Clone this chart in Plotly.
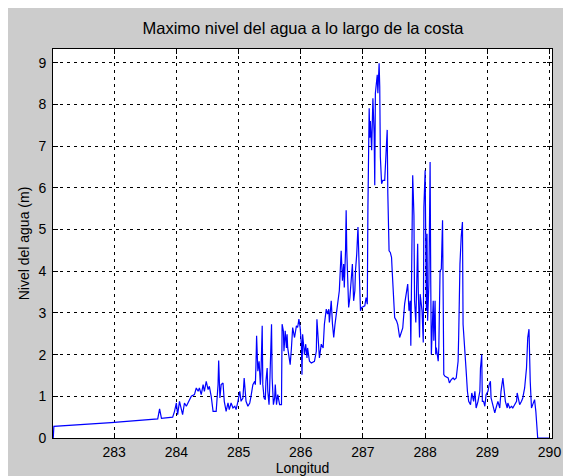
import plotly.graph_objects as go

# Longitud values
lon = [
    282.02, 282.03, 282.95, 283.70, 283.73, 283.76, 283.94,
    283.97, 284.00, 284.02, 284.05, 284.08, 284.10, 284.13, 284.16, 284.20, 284.24,
    284.29, 284.32, 284.35, 284.37, 284.40, 284.43, 284.45, 284.48, 284.51, 284.53,
    284.56, 284.59, 284.64, 284.67, 284.68, 284.70, 284.72, 284.75, 284.77, 284.80,
    284.83, 284.85, 284.88, 284.91, 284.94, 284.96, 284.99, 285.02, 285.04, 285.07,
    285.09, 285.12, 285.15, 285.18, 285.20, 285.23, 285.26, 285.27, 285.28, 285.29,
    285.31, 285.33, 285.35, 285.36, 285.38, 285.39, 285.41, 285.43, 285.44, 285.46,
    285.47, 285.49, 285.50, 285.53, 285.54, 285.56, 285.58, 285.59, 285.61, 285.63,
    285.66, 285.69, 285.70, 285.72, 285.73, 285.75, 285.77, 285.78, 285.79, 285.81,
    285.83, 285.85, 285.87, 285.90, 285.93, 285.95, 285.97, 285.99, 286.01, 286.02,
    286.03, 286.06, 286.08, 286.10, 286.11, 286.14, 286.17, 286.22, 286.25, 286.26,
    286.28, 286.30, 286.33, 286.36, 286.38, 286.41, 286.43, 286.45, 286.46, 286.49,
    286.51, 286.53, 286.55, 286.58, 286.60, 286.62, 286.65, 286.67, 286.69, 286.70,
    286.72, 286.73, 286.74, 286.76, 286.77, 286.79, 286.81, 286.83, 286.85, 286.87,
    286.88, 286.90, 286.92, 286.93, 286.95, 286.96, 286.98, 287.03, 287.05, 287.07,
    287.08, 287.10, 287.11, 287.12, 287.14, 287.16, 287.18, 287.19, 287.20, 287.23,
    287.24, 287.26, 287.27, 287.28, 287.30, 287.32, 287.35, 287.37, 287.39, 287.40,
    287.42, 287.44, 287.46, 287.47, 287.49, 287.51, 287.54, 287.56, 287.59, 287.62,
    287.64, 287.67, 287.70, 287.71, 287.72, 287.74, 287.76, 287.77, 287.79, 287.80,
    287.82, 287.83, 287.85, 287.86, 287.88, 287.89, 287.91, 287.92, 287.94, 287.95,
    287.97, 287.98, 288.00, 288.01, 288.02, 288.03, 288.04, 288.06, 288.08, 288.09,
    288.10, 288.13, 288.14, 288.16, 288.17, 288.18, 288.21, 288.22, 288.24, 288.26,
    288.28, 288.29, 288.30, 288.32, 288.37, 288.39, 288.42, 288.45, 288.47, 288.50,
    288.53, 288.54, 288.56, 288.58, 288.60, 288.61, 288.63, 288.66, 288.68, 288.70,
    288.73, 288.75, 288.78, 288.80, 288.82, 288.85, 288.88, 288.89, 288.91, 288.92,
    288.94, 288.96, 288.98, 289.01, 289.03, 289.05, 289.06, 289.09, 289.12, 289.14,
    289.17, 289.20, 289.22, 289.25, 289.27, 289.29, 289.32, 289.33, 289.36, 289.39,
    289.41, 289.44, 289.47, 289.48, 289.50, 289.52, 289.55, 289.57, 289.60, 289.63,
    289.65, 289.67, 289.69, 289.71, 289.73, 289.76, 289.78, 289.80, 289.81, 289.99,
]

# Nivel del agua (m)
nivel = [
    0.00, 0.28, 0.37, 0.46, 0.70, 0.47, 0.50,
    0.64, 0.84, 0.56, 0.88, 0.68, 0.56, 0.84, 0.76, 0.88, 1.00,
    1.04, 1.20, 1.12, 1.20, 1.04, 1.28, 1.12, 1.36, 1.16, 1.24,
    1.00, 0.64, 0.64, 1.28, 1.86, 0.96, 1.28, 1.32, 0.88, 0.64,
    0.84, 0.68, 0.84, 0.72, 0.76, 0.68, 0.88, 1.12, 0.88, 0.96,
    1.44, 0.88, 0.76, 0.84, 1.00, 1.28, 1.36, 1.28, 1.76, 2.45,
    1.60, 1.84, 1.28, 1.52, 2.69, 1.28, 0.96, 0.92, 1.36, 1.68,
    1.12, 0.80, 1.20, 2.73, 1.44, 0.80, 0.96, 1.28, 0.80, 1.04,
    0.80, 0.80, 2.73, 2.57, 2.08, 2.57, 2.16, 2.49, 2.16, 1.92,
    1.76, 2.16, 2.65, 2.41, 2.69, 2.65, 2.85, 2.65, 2.25, 1.52,
    2.49, 2.00, 2.25, 1.92, 2.16, 1.84, 1.80, 1.84, 2.08, 2.85,
    2.33, 1.92, 2.25, 2.16, 2.73, 3.09, 2.97, 3.09, 2.77, 3.29,
    2.73, 2.41, 2.72, 3.13, 3.37, 3.53, 4.49, 3.77, 4.17, 3.61,
    4.49, 5.46, 4.49, 3.69, 3.13, 3.37, 3.85, 4.17, 3.29, 3.53,
    4.01, 4.41, 5.06, 4.57, 3.69, 3.05, 3.13, 3.17, 3.37, 3.21,
    5.54, 7.91, 7.20, 7.60, 6.90, 8.15, 7.30, 6.06, 8.27, 8.71,
    8.27, 8.99, 8.43, 6.74, 6.10, 6.18, 6.18, 6.74, 7.39, 5.86,
    4.49, 4.45, 4.33, 4.01, 3.37, 2.89, 2.81, 2.72, 2.41, 2.56,
    2.64, 3.21, 3.53, 3.61, 3.69, 3.05, 3.29, 2.21, 5.30, 6.30,
    5.34, 3.29, 2.77, 3.77, 4.66, 3.53, 2.41, 3.45, 3.21, 3.05,
    2.29, 5.54, 6.42, 4.98, 3.05, 4.90, 2.81, 3.69, 6.62, 3.77,
    2.00, 3.29, 2.33, 3.29, 2.00, 2.17, 1.84, 2.17, 4.01, 4.05,
    5.22, 3.93, 1.52, 1.48, 1.44, 1.32, 1.40, 1.44, 1.40, 1.44,
    1.84, 2.49, 4.17, 4.82, 5.18, 2.73, 2.17, 1.60, 1.12, 0.88,
    0.80, 1.08, 0.88, 1.12, 0.72, 0.88, 1.12, 1.68, 2.00, 0.88,
    0.88, 0.76, 1.04, 1.12, 1.28, 1.36, 0.96, 0.80, 0.60, 0.72,
    0.88, 0.72, 1.12, 1.44, 1.20, 0.88, 0.72, 0.84, 0.72, 0.76,
    0.72, 0.80, 0.88, 1.08, 0.96, 0.80, 0.88, 0.96, 1.20, 1.68,
    2.41, 2.61, 1.36, 0.72, 0.80, 0.92, 0.64, 0.28, 0.00, 0.00,
]

x_ticks = [283, 284, 285, 286, 287, 288, 289, 290]
y_ticks = [0, 1, 2, 3, 4, 5, 6, 7, 8, 9]

title_text = "Maximo nivel del agua a lo largo de la costa"
x_label = "Longitud"
y_label = "Nivel del agua (m)"

FONT = "Liberation Sans, Arial, sans-serif"
GRAY = "#cccccc"

fig = go.Figure()
fig.add_trace(go.Scatter(
    x=lon, y=nivel, mode="lines",
    line=dict(color="#0000ff", width=1.2),
    hoverinfo="skip", showlegend=False,
))

axis_common = dict(
    showline=True, linecolor="black", linewidth=1, mirror="ticks",
    ticks="inside", ticklen=5, tickcolor="black", tickwidth=1,
    showgrid=True, gridcolor="black", gridwidth=1, griddash="3px,4px",
    zeroline=False, automargin=False,
    tickfont=dict(family=FONT, size=14, color="#000000"),
)

fig.update_xaxes(
    range=[282.016, 290.04], tickvals=x_ticks,
    ticktext=[str(v) for v in x_ticks],
    title=dict(text=x_label, font=dict(family=FONT, size=14, color="#000000"), standoff=3),
    ticklabelstandoff=1,
    **axis_common,
)
fig.update_yaxes(
    range=[0, 9.33], tickvals=y_ticks,
    ticktext=[str(v) for v in y_ticks],
    title=dict(text=y_label, font=dict(family=FONT, size=14, color="#000000"), standoff=5),
    ticklabelstandoff=3,
    **axis_common,
)

fig.update_layout(
    width=571, height=476,
    margin=dict(l=45, r=27, t=41, b=46),
    paper_bgcolor=GRAY, plot_bgcolor="white",
    title=dict(text=title_text, x=295 / 571, xanchor="center",
               y=1 - 20 / 476, yanchor="middle", yref="container",
               font=dict(family=FONT, size=16.5, color="#000000")),
    font=dict(family=FONT, color="#000000"),
)

fig.write_html("out.html")
